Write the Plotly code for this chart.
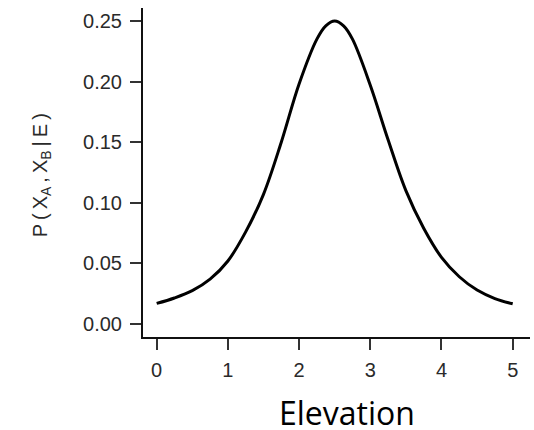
import plotly.graph_objects as go

elevation = [0.0, 0.25, 0.5, 0.75, 1.0, 1.25, 1.5, 1.75, 2.0, 2.25, 2.375, 2.5,
             2.625, 2.75, 3.0, 3.25, 3.5, 3.75, 4.0, 4.25, 4.5, 4.75, 5.0]
prob = [0.017, 0.0215, 0.0275, 0.037, 0.052, 0.076, 0.107, 0.150, 0.198, 0.235, 0.246, 0.250,
        0.246, 0.235, 0.197, 0.152, 0.110, 0.079, 0.055, 0.039, 0.028, 0.021, 0.0167]

x_ticks = [0, 1, 2, 3, 4, 5]
y_ticks = [0.0, 0.05, 0.10, 0.15, 0.20, 0.25]
y_tick_labels = ["0.00", "0.05", "0.10", "0.15", "0.20", "0.25"]

fig = go.Figure()
fig.add_trace(go.Scatter(x=elevation, y=prob, mode="lines",
                         line=dict(color="black", width=3, shape="spline", smoothing=1.0),
                         hoverinfo="skip", showlegend=False))

tick_font = dict(family="Liberation Sans, Arial, sans-serif", size=20, color="#2a2a2a")
ts = "\u2009"
ylabel = ("P" + ts + "(" + ts + "X<sub>A</sub>" + ts + "," + ts + "X<sub>B</sub>" + ts
          + "|" + ts + "E" + ts + ")")

fig.update_layout(
    width=534, height=430,
    margin=dict(l=143, r=4, t=8, b=93),
    paper_bgcolor="white", plot_bgcolor="white",
    showlegend=False,
    xaxis=dict(range=[-0.192, 5.243], tickvals=x_ticks, ticktext=[str(v) for v in x_ticks],
               showline=True, linecolor="#111", linewidth=2, mirror=False,
               ticks="outside", ticklen=11, tickwidth=1.5, tickcolor="#333",
               showgrid=False, zeroline=False, tickfont=tick_font, ticklabelstandoff=3),
    yaxis=dict(range=[-0.0107, 0.2607], tickvals=y_ticks, ticktext=y_tick_labels,
               showline=True, linecolor="#111", linewidth=2, mirror=False,
               ticks="outside", ticklen=11, tickwidth=1.5, tickcolor="#333",
               showgrid=False, zeroline=False, tickfont=tick_font, ticklabelstandoff=4),
    annotations=[
        dict(text="Elevation", xref="paper", yref="paper", x=0.527, y=-0.228,
             xanchor="center", yanchor="middle", showarrow=False,
             font=dict(family="Open Sans, sans-serif", size=32, color="black")),
        dict(text=ylabel, xref="paper", yref="paper",
             x=-0.263, y=0.492, xanchor="center", yanchor="middle", textangle=-90,
             showarrow=False,
             font=dict(family="Liberation Sans, Arial, sans-serif", size=20, color="#2a2a2a")),
    ],
)

fig.write_html("out.html", config={"displayModeBar": False},
               post_script="document.body.style.margin='0';document.body.style.padding='0';")
